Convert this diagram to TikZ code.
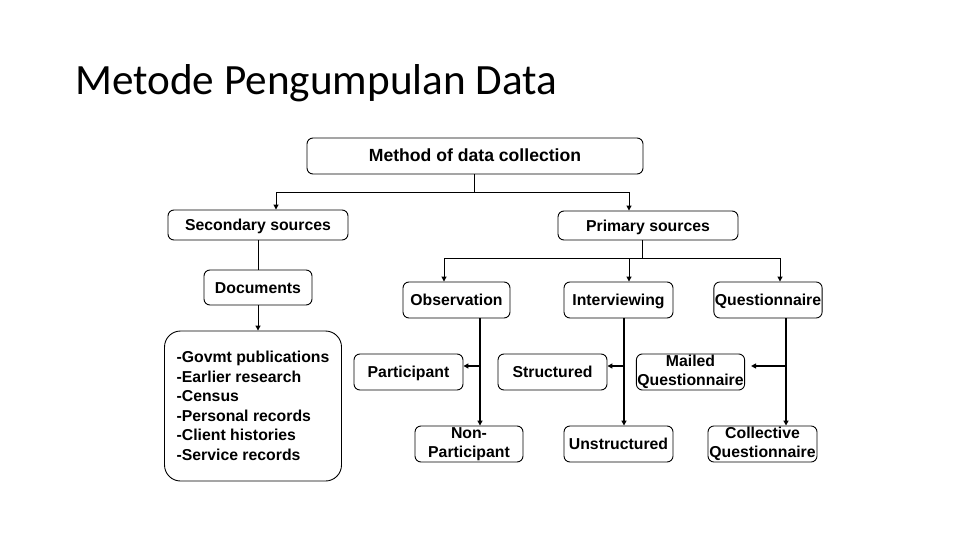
\documentclass[tikz,border=0pt]{standalone}
\usepackage{fontspec}
\setmainfont{Liberation Sans}
\newfontfamily\titlefont{Carlito}
\usetikzlibrary{arrows.meta,calc}

\begin{document}
\begin{tikzpicture}[
        x=1pt, y=-1pt,
        font=\bfseries\fontsize{15.8}{19.5}\selectfont,
        >={Triangle[length=5pt,width=5pt]},
        bx/.style={draw=black, line width=0.9pt, rounded corners=6pt,
                   inner sep=1pt, align=center},
        one/.style={text height=11.5pt, text depth=0.5pt},
        lst/.style={draw=black, line width=0.9pt, rounded corners=16pt,
                   inner sep=1pt, align=left},
        conn/.style={draw=black, line width=1pt},
        br/.style={draw=black, line width=1.8pt},
    ]
        \useasboundingbox (0,0) rectangle (960,540);
        % Slide title.
        \node[anchor=base west, inner sep=0pt, font=\titlefont\fontsize{43.2}{48}\selectfont]
            (title) at (75,95) {Metode Pengumpulan Data};
        % Top levels.
        \node[bx, one, minimum width=336pt, minimum height=36pt,
              font=\bfseries\fontsize{17.6}{20}\selectfont] (meth) at (475,156)
            {Method of data collection};
        \node[bx, one, minimum width=180pt, minimum height=30pt] (sec) at (258,225)
            {Secondary sources};
        \node[bx, one, minimum width=180pt, minimum height=29pt] (prim) at (648,225.5)
            {Primary sources};
        % Secondary branch.
        \node[bx, one, minimum width=108pt, minimum height=35pt] (docs) at (258,287.5)
            {Documents};
        \node[lst, minimum width=177pt, minimum height=150pt] (list) at (253,406)
            {-Govmt publications\\-Earlier research\\-Census\\-Personal records\\
             -Client histories\\-Service records};
        % Primary branch.
        \node[bx, one, minimum width=107pt, minimum height=36pt] (obs)   at (456.5,300) {Observation};
        \node[bx, one, minimum width=109pt, minimum height=36pt] (intv)  at (618.5,300) {Interviewing};
        \node[bx, one, minimum width=108pt, minimum height=36pt] (quest) at (768,300)   {Questionnaire};
        \node[bx, one, minimum width=109pt, minimum height=36pt] (part)  at (408.5,372) {Participant};
        \node[bx, one, minimum width=109pt, minimum height=36pt] (struc) at (552.5,372) {Structured};
        \node[bx, minimum width=107pt, minimum height=36pt] (mail)  at (690.5,372)
            {Mailed\\Questionnaire};
        \node[bx, minimum width=108pt, minimum height=36pt] (nonp)  at (469,444)
            {Non-\\Participant};
        \node[bx, one, minimum width=109pt, minimum height=36pt] (unst)  at (618.5,444) {Unstructured};
        \node[bx, minimum width=109pt, minimum height=36pt] (coll)  at (762.5,444)
            {Collective\\Questionnaire};
        % Connectors, top.
        \draw[conn] ([xshift=-1pt]meth.south) -- ++(0,18) coordinate (m1);
        \draw[conn, ->] (m1) -| ([xshift=18pt]sec.north);
        \draw[conn, ->] (m1) -| ([xshift=-19pt]prim.north);
        \draw[conn] (sec.south) -- (docs.north);
        \draw[conn, ->] (docs.south) -- (docs.south |- list.north);
        \draw[conn] ([xshift=-6pt]prim.south) -- ++(0,18) coordinate (p1);
        \draw[conn, ->] (p1) -| ([xshift=-12.5pt]obs.north);
        \draw[conn, ->] (p1) -| ([xshift=10.5pt]intv.north);
        \draw[conn, ->] (p1) -| ([xshift=12pt]quest.north);
        % Connectors, methods.
        \draw[br, ->] ([xshift=23.5pt]obs.south) coordinate (o1) -- (o1 |- nonp.north);
        \draw[br, ->] (o1 |- 0,366) -- ([yshift=6pt]part.east);
        \draw[br, ->] ([xshift=5.5pt]intv.south) coordinate (i1) -- (i1 |- unst.north);
        \draw[br, ->] (i1 |- 0,366) -- ([yshift=6pt]struc.east);
        \draw[br, ->] ([xshift=18pt]quest.south) coordinate (q1) -- (q1 |- coll.north);
        \draw[br, ->] (q1 |- 0,366) -- ([xshift=6pt,yshift=6pt]mail.east);
\end{tikzpicture}
\end{document}
